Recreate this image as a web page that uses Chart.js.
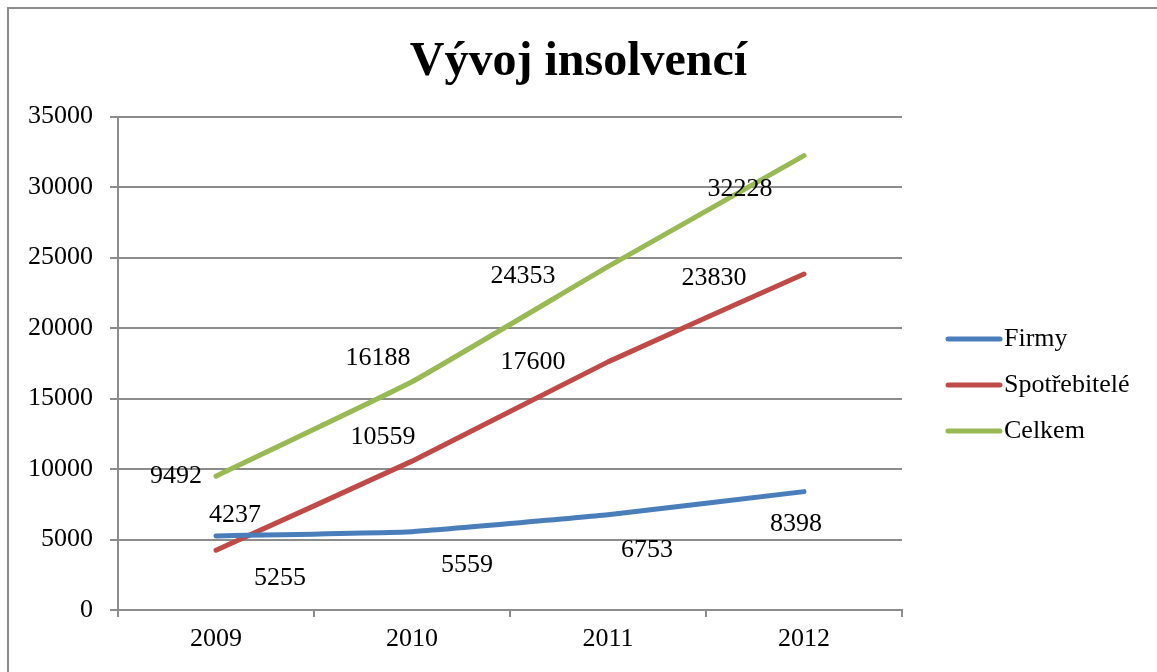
<!DOCTYPE html>
<html>
<head>
<meta charset="utf-8">
<script src="https://cdn.jsdelivr.net/npm/chart.js@4/dist/chart.umd.min.js"></script>
<style>
    html, body { margin: 0; padding: 0; background: #fff; }
    #wrap { width: 1157px; height: 672px; position: relative; }
</style>
</head>
<body>
<div id="wrap"><canvas id="insolvencyChart"></canvas></div>
<script>
// Vývoj insolvencí

const years = ['2009', '2010', '2011', '2012'];
const firmy = [5255, 5559, 6753, 8398];
const spotrebitele = [4237, 10559, 17600, 23830];
const celkem = [9492, 16188, 24353, 32228];
const seriesNames = ['Firmy', 'Spotřebitelé', 'Celkem'];
const seriesColors = ['#4a7ebb', '#be4b48', '#98b954'];

// where each value label sits relative to its point (px), like Excel placed them
const labelOffsets = [
    [[64, 42], [55, 34], [39, 35], [-8, 33]],
    [[19, -35], [-29, -24], [-75, 0], [-90, 4]],
    [[-40, 0], [-34, -24], [-85, 9], [-64, 33]],
];

const serif = '"Liberation Serif", "Times New Roman", serif';
const gridColor = '#8c8c8c';

// frame + value labels + legend on the right
const excelLook = {
    id: 'excelLook',
    beforeDraw: (chart) => {
        const ctx = chart.ctx;
        ctx.save();
        ctx.strokeStyle = gridColor;
        ctx.lineWidth = 2;
        ctx.strokeRect(8, 8, 1300, 800);
        ctx.restore();
    },
    afterDatasetsDraw: (chart) => {
        const ctx = chart.ctx;
        ctx.save();
        ctx.font = '26px ' + serif;
        ctx.fillStyle = '#000';
        ctx.textAlign = 'center';
        ctx.textBaseline = 'middle';
        chart.data.datasets.forEach((ds, i) => {
            chart.getDatasetMeta(i).data.forEach((pt, j) => {
                const off = labelOffsets[i][j];
                ctx.fillText(String(ds.data[j]), pt.x + off[0], pt.y + off[1]);
            });
        });

        // legend
        const lx = 948, ly = 339, step = 46;
        chart.data.datasets.forEach((ds, i) => {
            const y = ly + i * step;
            ctx.strokeStyle = ds.borderColor;
            ctx.lineWidth = 5;
            ctx.lineCap = 'round';
            ctx.beginPath();
            ctx.moveTo(lx, y);
            ctx.lineTo(lx + 52, y);
            ctx.stroke();
            ctx.textAlign = 'left';
            ctx.fillText(ds.label, lx + 56, y);
        });
        ctx.restore();
    },
};

const datasets = [firmy, spotrebitele, celkem].map((values, i) => ({
    label: seriesNames[i],
    data: values,
    borderColor: seriesColors[i],
    backgroundColor: seriesColors[i],
    borderWidth: 5,
    borderCapStyle: 'round',
    borderJoinStyle: 'round',
    pointRadius: 0,
    tension: 0.1,
}));

const chartOptions = {
    responsive: true,
    maintainAspectRatio: false,
    animation: false,
    layout: {
        padding: 0,
    },
    plugins: {
        legend: { display: false },
        tooltip: { enabled: false },
        title: {
            display: true,
            text: 'Vývoj insolvencí',
            color: '#000',
            font: { family: serif, size: 48, weight: 'bold', lineHeight: 1.2 },
            padding: { top: 34, bottom: 25 },
        },
    },
    scales: {
        x: {
            offset: true,
            grid: {
                offset: true,
                drawOnChartArea: false,
                drawTicks: true,
                tickLength: 7,
                color: gridColor,
                lineWidth: 2,
            },
            border: { display: true, color: gridColor, width: 2 },
            ticks: {
                color: '#000',
                font: { family: serif, size: 26 },
                padding: 7,
                maxRotation: 0,
            },
            afterFit: (scale) => { scale.height = 62; },
        },
        y: {
            min: 0,
            max: 35000,
            grid: {
                color: gridColor,
                lineWidth: 2,
                tickLength: 8,
            },
            border: { display: true, color: gridColor, width: 2 },
            ticks: {
                stepSize: 5000,
                color: '#000',
                font: { family: serif, size: 26 },
                padding: 17,
                callback: (value) => String(value),
            },
            afterFit: (scale) => { scale.width = 118; },
        },
        // empty column on the right that holds the legend
        legendSpace: {
            position: 'right',
            min: 0,
            max: 1,
            grid: { display: false },
            border: { display: false },
            ticks: { display: false },
            afterFit: (scale) => { scale.width = 255; },
        },
    },
};

new Chart(document.getElementById('insolvencyChart'), {
    type: 'line',
    data: { labels: years, datasets: datasets },
    options: chartOptions,
    plugins: [excelLook],
});
</script>
</body>
</html>
